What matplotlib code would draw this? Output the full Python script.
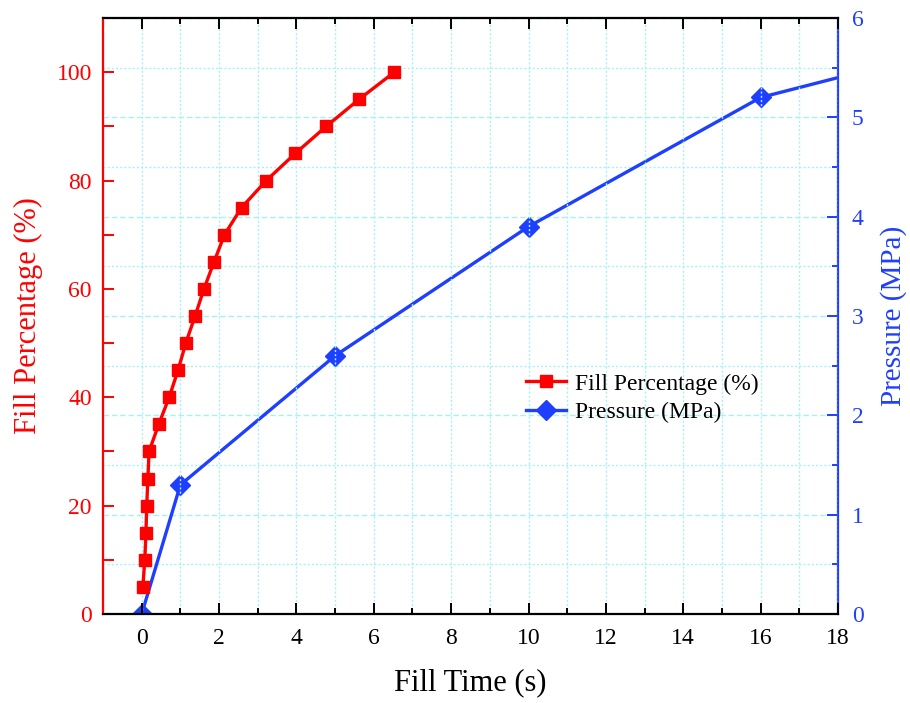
import matplotlib
matplotlib.use("Agg")
import matplotlib.pyplot as plt
from matplotlib.ticker import MultipleLocator
from matplotlib.lines import Line2D

plt.rcParams['font.family'] = ['Liberation Serif', 'DejaVu Serif']
plt.rcParams['mathtext.fontset'] = 'stix'

# Data
fill_time = [0.03, 0.08, 0.11, 0.13, 0.16, 0.19, 0.44, 0.71, 0.94, 1.14, 1.38, 1.61, 1.87,
             2.14, 2.58, 3.22, 3.97, 4.77, 5.62, 6.53]
fill_pct = [5, 10, 15, 20, 25, 30, 35, 40, 45, 50, 55, 60, 65, 70, 75, 80, 85, 90, 95, 100]

press_time = [0, 1, 5, 10, 16]
press_mpa = [0, 1.3, 2.6, 3.9, 5.2]
press_tail_time = [16, 20]
press_tail_mpa = [5.2, 5.6]

RED = '#FF0000'
BLUE = '#1F3FFF'
GRID = '#A8F0F8'

fig = plt.figure(figsize=(9.1, 7.03), dpi=100)
ax = fig.add_axes([0.1132, 0.1266, 0.9209 - 0.1132, 0.9744 - 0.1266])
ax2 = ax.twinx()
ax.set_zorder(ax2.get_zorder() + 1)
ax.patch.set_visible(False)

ax.set_xlim(-1, 18)
ax.set_ylim(0, 110)
ax2.set_ylim(0, 6)

# grids
ax.xaxis.set_major_locator(MultipleLocator(2))
ax.xaxis.set_minor_locator(MultipleLocator(1))
ax.yaxis.set_major_locator(MultipleLocator(20))
ax.yaxis.set_minor_locator(MultipleLocator(10))
ax2.yaxis.set_major_locator(MultipleLocator(1))
ax2.yaxis.set_minor_locator(MultipleLocator(0.5))

ax2.grid(True, which='major', axis='y', color=GRID, linestyle=(0, (4, 2)), linewidth=1.0)
ax2.grid(True, which='minor', axis='y', color=GRID, linestyle=(0, (1.5, 1.5)), linewidth=1.0)
ax.grid(True, which='major', axis='x', color=GRID, linestyle=(0, (1.5, 1.5)), linewidth=1.0)
ax.grid(True, which='minor', axis='x', color=GRID, linestyle=(0, (1.5, 1.5)), linewidth=1.0)
ax.set_axisbelow(True)

# lines
ax2.plot(press_tail_time, press_tail_mpa, color=BLUE, linewidth=2.4, zorder=3)
ax2.plot(press_time, press_mpa, color=BLUE, linewidth=2.4, marker='D', markersize=10,
         markeredgecolor=BLUE, markerfacecolor=BLUE, zorder=4)
ax.plot(fill_time, fill_pct, color=RED, linewidth=2.4, marker='s', markersize=8.5,
        markeredgecolor=RED, markerfacecolor=RED, zorder=4)

# spines
for s in ['left', 'top', 'bottom']:
    ax2.spines[s].set_visible(False)
ax.spines['right'].set_visible(False)
ax.spines['left'].set_color(RED)
ax.spines['left'].set_linewidth(1.6)
ax.spines['bottom'].set_linewidth(1.6)
ax.spines['top'].set_linewidth(1.6)
ax2.spines['right'].set_color(BLUE)
ax2.spines['right'].set_linewidth(1.6)

# ticks
ax.tick_params(axis='x', which='both', direction='in', top=True, bottom=True,
               labelsize=17, width=1.4, pad=10, color='black')
ax.tick_params(axis='x', which='major', length=8)
ax.tick_params(axis='x', which='minor', length=4)
ax.tick_params(axis='y', which='both', direction='in', colors=RED, labelsize=17,
               width=1.4, length=8, pad=8)
ax2.tick_params(axis='y', which='both', direction='in', colors=BLUE, labelsize=17,
                width=1.4, pad=10)
ax2.tick_params(axis='y', which='major', length=8)
ax2.tick_params(axis='y', which='minor', length=4)

ax.set_xlabel('Fill Time (s)', fontsize=22, labelpad=14)
ax.set_ylabel('Fill Percentage (%)', fontsize=22, color=RED, labelpad=10)
ax2.set_ylabel('Pressure (MPa)', fontsize=21, color=BLUE, rotation=90, labelpad=12)

handles = [
    Line2D([], [], color=RED, linewidth=2.4, marker='s', markersize=8.5),
    Line2D([], [], color=BLUE, linewidth=2.4, marker='D', markersize=10),
]
ax.legend(handles, ['Fill Percentage (%)', 'Pressure (MPa)'], loc='center left',
          bbox_to_anchor=(0.562, 0.362), frameon=False, fontsize=17,
          handlelength=1.7, handletextpad=0.4, labelspacing=0.3, borderaxespad=0)

fig.savefig('out.png', dpi=100)
